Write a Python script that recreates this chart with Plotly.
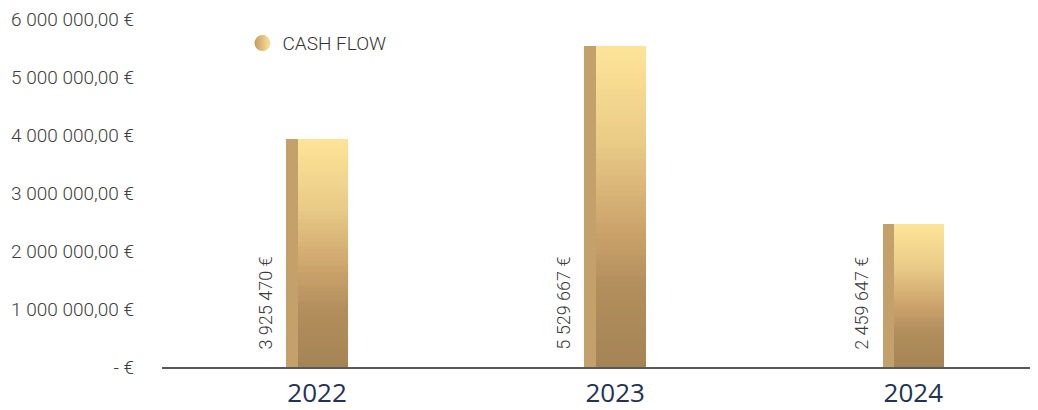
import plotly.graph_objects as go

# ---- data ----
years = ["2022", "2023", "2024"]
cash_flow = [3925470, 5529667, 2459647]
y_tick_values = [0, 1000000, 2000000, 3000000, 4000000, 5000000, 6000000]
y_tick_labels = ["- €", "1 000 000,00 €", "2 000 000,00 €", "3 000 000,00 €",
                 "4 000 000,00 €", "5 000 000,00 €", "6 000 000,00 €"]
series_name = "CASH FLOW"

# ---- style ----
grad_stops = [(0.0, (0xA4, 0x84, 0x55)), (0.25, (0xB3, 0x8E, 0x5D)),
              (0.42, (0xCA, 0xA2, 0x6A)), (0.7, (0xEA, 0xCB, 0x87)),
              (1.0, (0xFE, 0xE4, 0x97))]
side_color = "#C4A06A"
N = 60
front_off, front_w = -0.064, 0.168
side_off, side_w = -0.103, 0.040


def grad_color(t):
    for (t0, c0), (t1, c1) in zip(grad_stops[:-1], grad_stops[1:]):
        if t0 <= t <= t1:
            f = (t - t0) / (t1 - t0)
            c = [round(a + (b - a) * f) for a, b in zip(c0, c1)]
            return "rgb(%d,%d,%d)" % tuple(c)
    return "rgb(%d,%d,%d)" % grad_stops[-1][1]


fig = go.Figure()

# side face of the pseudo-3D bars
fig.add_trace(go.Bar(x=years, y=cash_flow, width=side_w, offset=side_off,
                     marker=dict(color=side_color, line=dict(width=0)),
                     showlegend=False, hoverinfo="skip"))

# front face with vertical gradient (stacked slices of each value)
for i in range(N):
    t = (i + 0.5) / N
    fig.add_trace(go.Bar(
        x=years,
        y=[v / N * 1.02 for v in cash_flow],
        base=[v * i / N for v in cash_flow],
        width=front_w, offset=front_off,
        marker=dict(color=grad_color(t), line=dict(width=0)),
        showlegend=False, hoverinfo="skip"))

# legend entry
fig.add_trace(go.Scatter(
    x=[None], y=[None], mode="markers", name=series_name,
    marker=dict(symbol="circle", size=18, color="#C49B5E",
                gradient=dict(type="horizontal", color="#FEE49A"),
                line=dict(width=0))))

# value labels
for idx, v in enumerate(cash_flow):
    fig.add_annotation(
        x=idx, y=0, xref="x", yref="y",
        text=f"{v:,}".replace(",", " ") + " €",
        textangle=-90, showarrow=False, xanchor="center", yanchor="bottom",
        xshift=-52, yshift=15,
        font=dict(family="Roboto", size=18, color="#3a3a3a", weight=300))

fig.update_layout(
    width=1030, height=402,
    margin=dict(l=154, r=1, t=11, b=43, autoexpand=False),
    paper_bgcolor="white", plot_bgcolor="white",
    barmode="overlay", bargap=0,
    showlegend=True,
    legend=dict(x=0.092, y=0.985, xanchor="left", yanchor="top",
                font=dict(family="Roboto", size=19, color="#333333", weight=300),
                bgcolor="rgba(0,0,0,0)"),
    xaxis=dict(type="category", range=[-0.52, 2.415], showgrid=False,
               showline=True, linecolor="#595959", linewidth=1.5,
               ticks="", zeroline=False, ticklabelstandoff=2, automargin=False,
               tickfont=dict(family="Open Sans", size=26, color="#243352")),
    yaxis=dict(range=[0, 6000000], tickvals=y_tick_values, ticktext=y_tick_labels,
               showgrid=False, zeroline=False, showline=False, ticks="",
               ticklabelstandoff=27, automargin=False, ticklabeloverflow="allow",
               tickfont=dict(family="Roboto", size=19, color="#404040", weight=300)),
)

fig.write_html("out.html")
